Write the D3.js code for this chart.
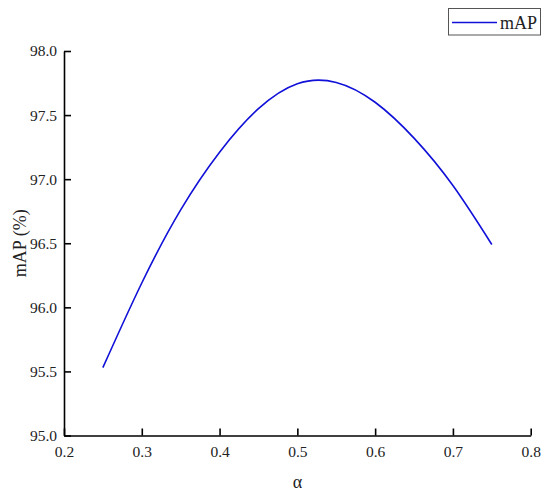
<!DOCTYPE html>
<html><head><meta charset="utf-8">
<script src="https://cdn.jsdelivr.net/npm/d3@7"></script>
<style>body{margin:0;background:#fff}svg{display:block}</style>
</head><body>
<svg id="c" width="550" height="498"></svg>
<script>
const alphaValues = [0.25,0.30,0.35,0.40,0.45,0.50,0.55,0.60,0.65,0.70,0.75];
const mapValues   = [95.53,96.19,96.76,97.21,97.55,97.745,97.755,97.60,97.32,96.95,96.49];
const xTicks = [0.2,0.3,0.4,0.5,0.6,0.7,0.8];
const xMinor = [0.25,0.35,0.45,0.55,0.65,0.75];
const yTicks = [95.0,95.5,96.0,96.5,97.0,97.5,98.0];
const yMinor = [95.25,95.75,96.25,96.75,97.25,97.75];
const seriesName = "mAP";

const svg = d3.select("#c");
const font = "'Liberation Serif','Times New Roman',serif";
const L = 64, R = 530.7, T = 51, B = 435.5;
const x = d3.scaleLinear().domain([0.2,0.8]).range([L,R]);
const y = d3.scaleLinear().domain([95,98]).range([B,T]);

const gx = svg.append("g").attr("transform",`translate(0,${B})`);
gx.call(d3.axisBottom(x).tickValues(xMinor).tickSize(-4).tickFormat(""));
gx.call(d3.axisBottom(x).tickValues(xTicks).tickSize(-7).tickSizeOuter(0).tickFormat(d3.format(".1f")));
gx.selectAll("path,line").attr("stroke","#000").attr("stroke-width",1.6);
gx.selectAll("text").attr("font-family",font).attr("font-size",15.5).attr("fill","#222").attr("y",10).attr("dy","0.71em");

const gy = svg.append("g").attr("transform",`translate(${L},0)`);
gy.call(d3.axisLeft(y).tickValues(yMinor).tickSize(-4).tickFormat(""));
gy.call(d3.axisLeft(y).tickValues(yTicks).tickSize(-7).tickSizeOuter(0).tickFormat(d3.format(".1f")));
gy.selectAll("path,line").attr("stroke","#000").attr("stroke-width",1.6);
gy.selectAll("text").attr("font-family",font).attr("font-size",15.5).attr("fill","#222").attr("x",-7);

const data = alphaValues.map((a,i)=>({a, v:mapValues[i]}));
svg.append("path").datum(data)
  .attr("fill","none").attr("stroke","#1010d8").attr("stroke-width",1.6)
  .attr("d", d3.line().x(d=>x(d.a)).y(d=>y(d.v)).curve(d3.curveNatural));

svg.append("text").attr("x",(L+R)/2).attr("y",482).attr("text-anchor","middle").attr("dominant-baseline","central")
  .attr("font-family",font).attr("font-size",18).attr("fill","#222").text("α");
svg.append("text").attr("transform",`translate(20,${(T+B)/2}) rotate(-90)`).attr("text-anchor","middle").attr("dominant-baseline","central")
  .attr("font-family",font).attr("font-size",18).attr("fill","#222").text("mAP (%)");

const lg = svg.append("g");
lg.append("rect").attr("x",448.5).attr("y",8.5).attr("width",92).attr("height",26.5).attr("fill","#fff").attr("stroke","#555").attr("stroke-width",1);
lg.append("line").attr("x1",452).attr("x2",497).attr("y1",22.5).attr("y2",22.5).attr("stroke","#1010d8").attr("stroke-width",1.6);
lg.append("text").attr("x",500).attr("y",22.5).attr("dominant-baseline","central").attr("font-family",font).attr("font-size",18).attr("fill","#222").text(seriesName);
</script>
</body></html>
